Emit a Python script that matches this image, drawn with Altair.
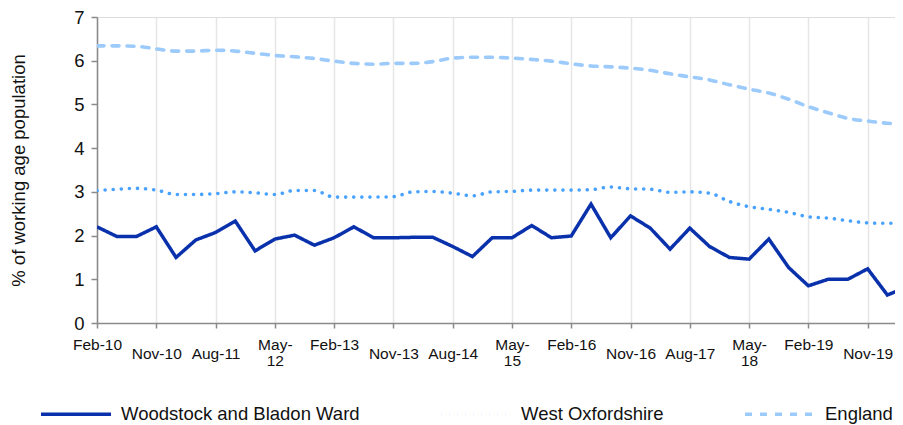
import altair as alt
import pandas as pd

# Quarterly points Feb-10 ... May-20 (index 0..41)
quarters = [f"{m}-{y:02d}" for y in range(10, 21) for m in ["Feb", "May", "Aug", "Nov"]][:42]

woodstock = [2.20, 1.98, 1.98, 2.20, 1.50, 1.90, 2.07, 2.33, 1.65, 1.92, 2.01, 1.78,
             1.95, 2.20, 1.95, 1.95, 1.96, 1.96, 1.75, 1.52, 1.95, 1.95, 2.23, 1.95,
             1.99, 2.72, 1.95, 2.45, 2.17, 1.69, 2.17, 1.75, 1.50, 1.46, 1.92, 1.27,
             0.85, 1.00, 1.00, 1.24, 0.64, 0.83]
west_oxon = [3.03, 3.06, 3.08, 3.04, 2.94, 2.94, 2.96, 3.00, 2.98, 2.94, 3.03, 3.03,
             2.88, 2.88, 2.88, 2.89, 3.00, 3.01, 2.97, 2.91, 3.00, 3.01, 3.04, 3.04,
             3.04, 3.05, 3.11, 3.07, 3.06, 2.99, 3.00, 2.97, 2.78, 2.66, 2.60, 2.53,
             2.43, 2.40, 2.34, 2.29, 2.28, 2.28]
england = [6.34, 6.34, 6.33, 6.27, 6.22, 6.22, 6.24, 6.22, 6.17, 6.12, 6.09, 6.05,
           5.99, 5.94, 5.92, 5.94, 5.94, 5.98, 6.06, 6.08, 6.08, 6.06, 6.03, 5.99,
           5.93, 5.88, 5.86, 5.83, 5.78, 5.70, 5.63, 5.56, 5.45, 5.35, 5.26, 5.12,
           4.95, 4.81, 4.68, 4.62, 4.57, 4.55]

series_names = ["Woodstock and Bladon Ward", "West Oxfordshire", "England"]
series_colors = ["#0A31AC", "#4AA2FF", "#9CCBFB"]

tick_positions = list(range(0, 40, 3))
tick_labels = [["Feb-10"], ["Nov-10"], ["Aug-11"], ["May-", "12"], ["Feb-13"],
               ["Nov-13"], ["Aug-14"], ["May-", "15"], ["Feb-16"], ["Nov-16"],
               ["Aug-17"], ["May-", "18"], ["Feb-19"], ["Nov-19"]]

rows = []
for name, vals in zip(series_names, [woodstock, west_oxon, england]):
    for i, v in enumerate(vals):
        rows.append({"idx": i, "quarter": quarters[i], "series": name, "value": v})
df = pd.DataFrame(rows)

W, H = 798, 306
x_max = W / 19.76

label_js = "[" + ",".join("[" + ",".join(f"'{s}'" for s in lab) + "]" for lab in tick_labels) + "]"

x_enc = alt.X("idx:Q",
              scale=alt.Scale(domain=[0, x_max], nice=False, zero=False),
              axis=alt.Axis(values=tick_positions, labelExpr=f"{label_js}[round(datum.value/3)]",
                            title=None, grid=True, gridColor="#E6E6E6", gridWidth=1.5,
                            domainColor="#8A8A8A", domainWidth=1.5, tickColor="#8A8A8A",
                            tickWidth=1.5, tickSize=5,
                            labelPadding={"condition": {"test": "datum.value % 12 == 3 || datum.value % 12 == 6",
                                                        "value": 25},
                                          "value": 16},
                            labelBaseline="middle",
                            labelLineHeight=16, labelFont="Liberation Sans", labelFontSize=15.5,
                            labelColor="#111111", labelAngle=0, labelOverlap=False,
                            labelFlush=False, labelAlign="center"))
y_enc = alt.Y("value:Q",
              scale=alt.Scale(domain=[0, 7], nice=False),
              axis=alt.Axis(values=[0, 1, 2, 3, 4, 5, 6, 7], grid=False,
                            title="% of working age population",
                            titleFont="Liberation Sans", titleFontSize=18.5,
                            titleFontWeight="normal", titleColor="#111111",
                            titleAngle=270, titleX=-79, titleY=H / 2, titleAlign="center",
                            titleBaseline="middle",
                            domainColor="#8A8A8A", domainWidth=1.5, tickColor="#8A8A8A",
                            tickWidth=1.5, tickSize=6, labelPadding=7,
                            labelFont="Liberation Sans", labelFontSize=18.5,
                            labelColor="#111111"))

color_enc = alt.Color("series:N",
                      scale=alt.Scale(domain=series_names, range=series_colors),
                      legend=alt.Legend(orient="none", legendX=-58, legendY=360,
                                        direction="horizontal", columns=3, title=None,
                                        symbolType="stroke", symbolSize=4900,
                                        symbolStrokeWidth=3, columnPadding=73,
                                        labelOffset=8, labelFont="Liberation Sans",
                                        labelFontSize=18.5, labelColor="#111111",
                                        labelLimit=400))
dash_enc = alt.StrokeDash("series:N",
                          scale=alt.Scale(domain=series_names,
                                          range=[[1, 0], [0.1, 8], [7, 8]]),
                          legend=None)
width_enc = alt.StrokeWidth("series:N",
                            scale=alt.Scale(domain=series_names, range=[3.5, 3.6, 4.2]),
                            legend=None)

base = alt.Chart(df).encode(x=x_enc, y=y_enc, color=color_enc, strokeDash=dash_enc,
                            strokeWidth=width_enc, detail="series:N")

ward = base.transform_filter(alt.datum.series == series_names[0]).mark_line(
    clip=True, strokeCap="butt", strokeJoin="miter")
smooth = base.transform_filter(alt.datum.series != series_names[0]).mark_line(
    clip=True, strokeCap="round", interpolate="monotone")

chart = alt.layer(smooth, ward).properties(
    width=W, height=H,
    autosize=alt.AutoSizeParams(type="none"),
    padding={"left": 89, "top": 9, "right": 0, "bottom": 102},
).configure_view(stroke=None).configure(background="white")

chart.save("out.html", embed_options={"renderer": "svg", "actions": False})
